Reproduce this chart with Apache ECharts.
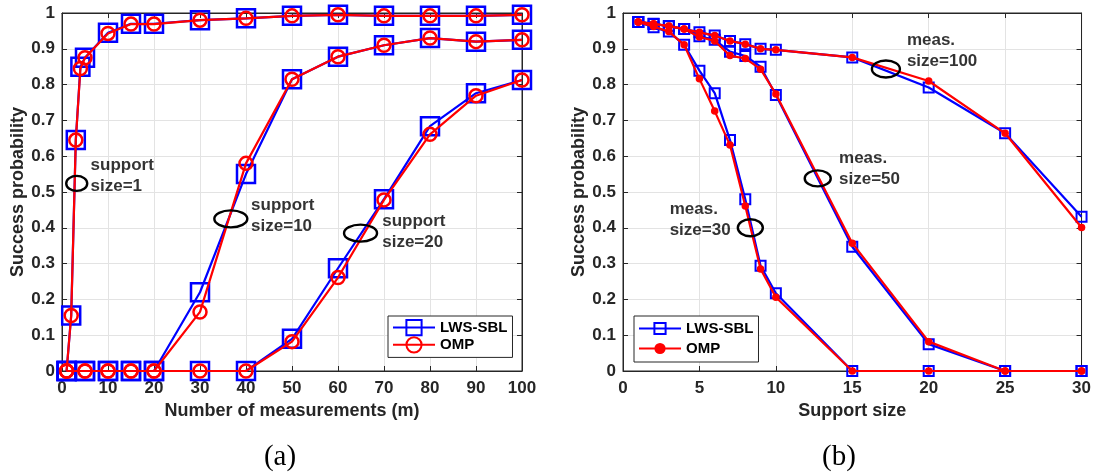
<!DOCTYPE html>
<html><head><meta charset="utf-8">
<script src="https://cdn.jsdelivr.net/npm/echarts@6/dist/echarts.min.js"></script>
<style>html,body{margin:0;padding:0;background:#fff;}#c{width:1094px;height:472px;}</style>
</head><body><div id="c"></div>
<script>
// ---------- data: panel (a) ----------
const measX1 = [1,2,3,4,5,10,15,20,30,40,50,60,70,80,90,100];
const measX  = [1,5,10,15,20,30,40,50,60,70,80,90,100];
const lwsSupp1  = [0,0.155,0.645,0.85,0.875,0.945,0.97,0.97,0.98,0.985,0.992,0.995,0.992,0.992,0.992,0.995];
const ompSupp1  = [0,0.155,0.645,0.845,0.875,0.943,0.969,0.969,0.98,0.985,0.992,0.995,0.992,0.992,0.992,0.995];
const lwsSupp10 = [0,0,0,0,0,0.22,0.55,0.815,0.878,0.91,0.93,0.92,0.925];
const ompSupp10 = [0,0,0,0,0,0.165,0.58,0.815,0.878,0.91,0.93,0.92,0.925];
const lwsSupp20 = [0,0,0,0,0,0,0,0.09,0.287,0.48,0.684,0.776,0.813];
const ompSupp20 = [0,0,0,0,0,0,0,0.082,0.261,0.478,0.661,0.769,0.813];
// ---------- data: panel (b) ----------
const suppX = [1,2,3,4,5,6,7,8,9,10,15,20,25,30];
const lwsMeas100 = [0.975,0.969,0.964,0.955,0.946,0.937,0.922,0.913,0.900,0.897,0.876,0.792,0.664,0.431];
const ompMeas100 = [0.975,0.969,0.964,0.955,0.946,0.937,0.922,0.913,0.900,0.897,0.876,0.81,0.664,0.401];
const lwsMeas50  = [0.975,0.97,0.963,0.955,0.935,0.925,0.892,0.88,0.85,0.771,0.347,0.075,0,0];
const ompMeas50  = [0.975,0.97,0.963,0.955,0.933,0.922,0.881,0.873,0.843,0.774,0.357,0.082,0,0];
const lwsMeas30  = [0.975,0.96,0.948,0.911,0.839,0.776,0.645,0.48,0.294,0.217,0,0,0,0];
const ompMeas30  = [0.975,0.962,0.948,0.911,0.816,0.726,0.631,0.461,0.285,0.206,0,0,0,0];
// ---------- axes / labels ----------
const yTicks = [0,0.1,0.2,0.3,0.4,0.5,0.6,0.7,0.8,0.9,1];
const xRangeA = [0,100,10];
const xRangeB = [0,30,5];
const xNameA = 'Number of measurements (m)';
const xNameB = 'Support size';
const yName = 'Success probability';
// annotation anchors in data units
const annotEllA = [[3.2,0.524],[36.7,0.425],[64.9,0.385]];
const annotTxtA = [[6.1,0.546,'support\nsize=1'],[41.0,0.433,'support\nsize=10'],[69.5,0.389,'support\nsize=20']];
const annotEllB = [[17.2,0.8436],[12.74,0.538],[8.33,0.40]];
const annotTxtB = [[18.54,0.895,'meas.\nsize=100'],[14.1,0.564,'meas.\nsize=50'],[3.02,0.423,'meas.\nsize=30']];
const panelLabels = ['(a)','(b)'];

const FONT = '"Liberation Sans", Arial, Helvetica, sans-serif';
const DARK = '#262626';
const BLUE = '#0000ff', RED = '#ff0000';
const pairs = (xs, ys) => xs.map((x,i)=>[x, ys[i]]);

function mkLine(name, xs, ys, gi, kind, big) {
  const isL = kind === 'L';
  const col = isL ? BLUE : RED;
  let symbol, size, item;
  if (isL) { symbol = 'rect'; size = big ? 18 : 10; item = {color:'rgba(0,0,0,0)', borderColor:BLUE, borderWidth: big ? 2.5 : 2}; }
  else if (big) { symbol = 'circle'; size = 13; item = {color:'rgba(0,0,0,0)', borderColor:RED, borderWidth:2.5}; }
  else { symbol = 'circle'; size = 7.5; item = {color:RED, borderColor:RED, borderWidth:0}; }
  return {
    type:'line', name, xAxisIndex: gi*2, yAxisIndex: gi*2, data: pairs(xs, ys),
    symbol, symbolSize: size, showAllSymbol: true, clip: false, z: isL ? 3 : 4,
    itemStyle: item, lineStyle: {color: col, width: 2.2}, emphasis: {disabled: true}
  };
}

const series = [];
const nmL = ['LWS-SBL','LWS-SBL (b)'], nmO = ['OMP','OMP (b)'];
series.push(mkLine(nmL[0], measX1, lwsSupp1, 0, 'L', true));
series.push(mkLine(nmL[0], measX, lwsSupp10, 0, 'L', true));
series.push(mkLine(nmL[0], measX, lwsSupp20, 0, 'L', true));
series.push(mkLine(nmO[0], measX1, ompSupp1, 0, 'O', true));
series.push(mkLine(nmO[0], measX, ompSupp10, 0, 'O', true));
series.push(mkLine(nmO[0], measX, ompSupp20, 0, 'O', true));
[lwsMeas100, lwsMeas50, lwsMeas30].forEach(d=>series.push(mkLine(nmL[1], suppX, d, 1, 'L', false)));
[ompMeas100, ompMeas50, ompMeas30].forEach(d=>series.push(mkLine(nmO[1], suppX, d, 1, 'O', false)));

const ellSizesA = [[21,15],[33,17],[33,17]];
const ellSizesB = [[28,17],[26,16],[25,17]];
function ellSeries(pts, sizes, gi) {
  return {type:'custom', xAxisIndex: gi*2, yAxisIndex: gi*2, z: 6, silent: true, clip:false,
    data: pts,
    renderItem: (params, api) => {
      const c = api.coord([api.value(0), api.value(1)]);
      const s = sizes[params.dataIndex];
      return {type:'ellipse', shape:{cx:c[0], cy:c[1], rx:s[0]/2, ry:s[1]/2},
        style:{fill:null, stroke:'#000', lineWidth:2.4}};
    }};
}
function txtSeries(pts, gi) {
  return {type:'scatter', xAxisIndex: gi*2, yAxisIndex: gi*2, z: 6, silent: true,
    symbol:'circle', symbolSize: 1, itemStyle:{color:'rgba(0,0,0,0)'},
    data: pts.map(p=>({value:[p[0],p[1]], name:p[2]})),
    label:{show:true, position:'right', distance:0, formatter:'{b}', color:'#000',
      fontFamily: FONT, fontWeight:'bold', fontSize:17, lineHeight:21, align:'left'}};
}
series.push(ellSeries(annotEllA, ellSizesA, 0), ellSeries(annotEllB, ellSizesB, 1));
series.push(txtSeries(annotTxtA, 0), txtSeries(annotTxtB, 1));

const grids = [
  {left:62, top:13, width:460, height:358, show:true, borderColor:DARK, borderWidth:1, backgroundColor:'#fff'},
  {left:623, top:13, width:460, height:358, show:true, borderColor:DARK, borderWidth:1, backgroundColor:'#fff'}
];
const tickStyle = {show:true, inside:true, length:5, lineStyle:{color:DARK, width:1}};
const lblStyle = {color:DARK, fontFamily:FONT, fontWeight:'bold', fontSize:17};
function xAxes(gi, rng, name) {
  return [
    {type:'value', gridIndex:gi, min:rng[0], max:rng[1], interval:rng[2], position:'bottom',
     axisLine:{show:true, onZero:false, lineStyle:{color:DARK}}, axisTick:tickStyle,
     axisLabel:Object.assign({margin:9}, lblStyle),
     splitLine:{show:true, lineStyle:{color:'#e3e3e3', width:1}},
     name, nameLocation:'middle', nameGap:31,
     nameTextStyle:{color:DARK, fontFamily:FONT, fontWeight:'bold', fontSize:18}},
    {type:'value', gridIndex:gi, min:rng[0], max:rng[1], interval:rng[2], position:'top',
     axisLine:{show:true, onZero:false, lineStyle:{color:DARK}}, axisTick:tickStyle,
     axisLabel:{show:false}, splitLine:{show:false}}
  ];
}
function yAxes(gi) {
  return [
    {type:'value', gridIndex:gi, min:yTicks[0], max:yTicks[yTicks.length-1], interval:0.1, position:'left',
     axisLine:{show:true, onZero:false, lineStyle:{color:DARK}}, axisTick:tickStyle,
     axisLabel:Object.assign({margin:7, formatter: v => String(+v.toFixed(1))}, lblStyle),
     splitLine:{show:true, lineStyle:{color:'#e3e3e3', width:1}},
     name: yName, nameLocation:'middle', nameGap:33, nameRotate:90,
     nameTextStyle:{color:DARK, fontFamily:FONT, fontWeight:'bold', fontSize:18}},
    {type:'value', gridIndex:gi, min:0, max:1, interval:0.1, position:'right',
     axisLine:{show:true, onZero:false, lineStyle:{color:DARK}}, axisTick:tickStyle,
     axisLabel:{show:false}, splitLine:{show:false}}
  ];
}
const legendBase = {orient:'vertical', itemWidth:42, borderColor:DARK, borderWidth:1, backgroundColor:'#fff',
  borderRadius:0, textStyle:{color:'#000', fontFamily:FONT, fontWeight:'bold', fontSize:15},
  selectedMode:false, z:10};
const option = {
  animation:false, backgroundColor:'#fff',
  grid: grids,
  xAxis: [...xAxes(0, xRangeA, xNameA), ...xAxes(1, xRangeB, xNameB)],
  yAxis: [...yAxes(0), ...yAxes(1)],
  legend: [
    Object.assign({}, legendBase, {data:[nmL[0], nmO[0]], left:388, top:316, itemHeight:19, itemGap:0, padding:[3,5,4,4]}),
    Object.assign({}, legendBase, {data:[nmL[1], nmO[1]], left:634, top:316, itemHeight:14, itemGap:5, padding:[5,5,6,4],
      formatter: n => n.replace(' (b)','')})
  ],
  series,
  graphic: [
    {type:'text', x:280, y:457, style:{text:panelLabels[0], fontFamily:'"Liberation Serif", "DejaVu Serif", serif', fontSize:29, fill:'#000', textAlign:'center', textVerticalAlign:'middle'}},
    {type:'text', x:839, y:457, style:{text:panelLabels[1], fontFamily:'"Liberation Serif", "DejaVu Serif", serif', fontSize:29, fill:'#000', textAlign:'center', textVerticalAlign:'middle'}}
  ]
};
const chart = echarts.init(document.getElementById('c'), null, {renderer:'canvas'});
chart.setOption(option);
</script></body></html>
